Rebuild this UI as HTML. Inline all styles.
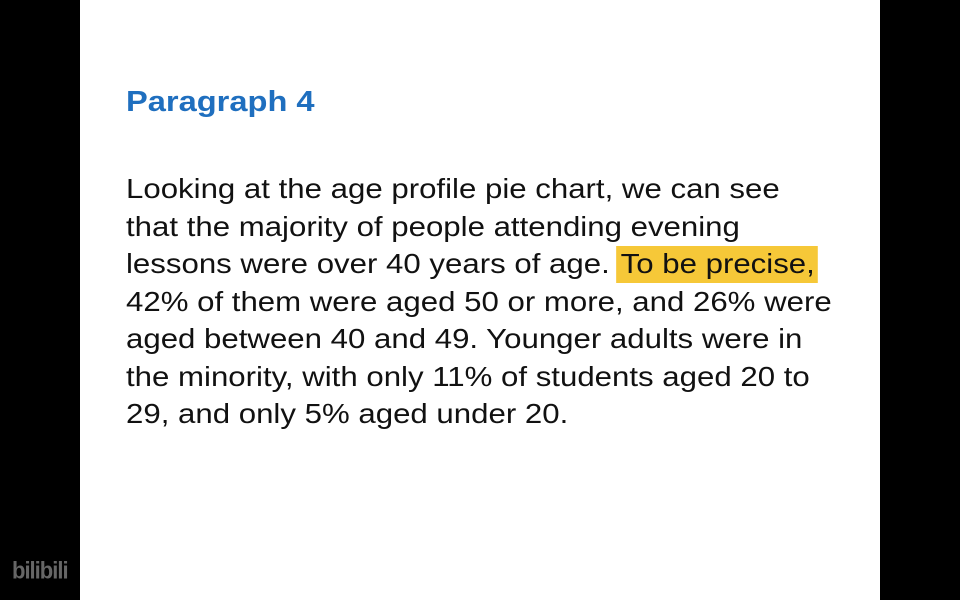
<!DOCTYPE html>
<html><head><meta charset="utf-8"><style>
html,body{margin:0;padding:0;background:#000;width:960px;height:600px;overflow:hidden}
#slide{position:absolute;left:80px;top:0;width:800px;height:600px;background:#fff}
.t{position:absolute;left:46px;font-family:"Liberation Sans",Arial,sans-serif;white-space:nowrap;color:#111;transform-origin:0 0}
.title{top:84px;font-size:29px;font-weight:bold;color:#1f6fbf;line-height:37px;transform:scaleX(1.125)}
.l{font-size:28px;line-height:37.5px;transform:scaleX(1.114)}
.hl{background:#f6c838;padding:2px 3px 4px 4px;margin-left:-2px}
#wm{position:absolute;left:12px;top:558px;font-family:"Liberation Sans",sans-serif;font-weight:bold;font-size:22px;color:#666;letter-spacing:-1px;transform:scaleY(1.1)}
</style></head><body>
<div id="slide">
<div class="t title">Paragraph 4</div>
<div class="t l" style="top:170px">Looking at the age profile pie chart, we can see</div>
<div class="t l" style="top:207.5px">that the majority of people attending evening</div>
<div class="t l" style="top:245px">lessons were over 40 years of age. <span class="hl">To be precise,</span></div>
<div class="t l" style="top:282.5px">42% of them were aged 50 or more, and 26% were</div>
<div class="t l" style="top:320px">aged between 40 and 49. Younger adults were in</div>
<div class="t l" style="top:357.5px">the minority, with only 11% of students aged 20 to</div>
<div class="t l" style="top:395px">29, and only 5% aged under 20.</div>
</div>
<div id="wm">bilibili</div>
</body></html>
